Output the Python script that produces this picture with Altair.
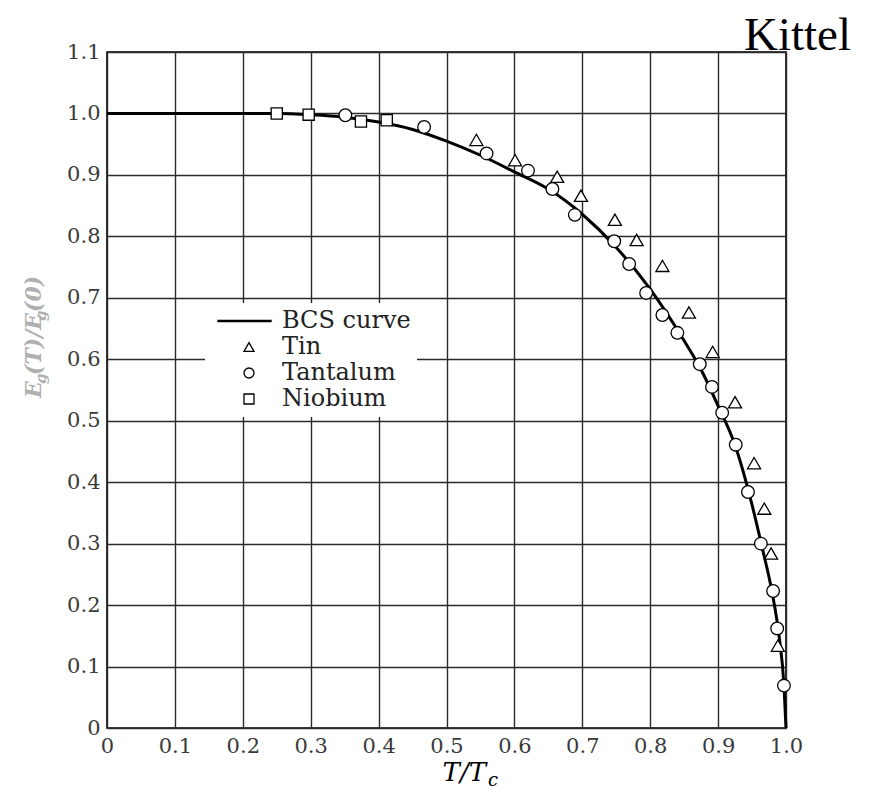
import altair as alt
import pandas as pd

# ---------------- data ----------------
x_ticks = [0, 0.1, 0.2, 0.3, 0.4, 0.5, 0.6, 0.7, 0.8, 0.9, 1.0]
y_ticks = [0, 0.1, 0.2, 0.3, 0.4, 0.5, 0.6, 0.7, 0.8, 0.9, 1.0, 1.1]

series_names = ["BCS curve", "Tin", "Tantalum", "Niobium"]

bcs_t = [0, 0.25, 0.3, 0.35, 0.4, 0.45, 0.5, 0.55, 0.6, 0.65, 0.7, 0.75,
         0.8, 0.85, 0.875, 0.9, 0.925, 0.95, 0.965, 0.98, 0.99, 0.997, 1.0]
bcs_e = [1.0, 1.0, 0.998, 0.994, 0.986, 0.974, 0.955, 0.932, 0.905, 0.877,
         0.836, 0.782, 0.714, 0.630, 0.583, 0.524, 0.460, 0.363, 0.293,
         0.218, 0.148, 0.069, 0.0]

tin_t = [0.544, 0.601, 0.663, 0.698, 0.748, 0.780, 0.818, 0.857, 0.892,
         0.925, 0.953, 0.968, 0.978, 0.988]
tin_e = [0.957, 0.924, 0.897, 0.866, 0.827, 0.794, 0.752, 0.676, 0.612,
         0.530, 0.431, 0.357, 0.284, 0.134]

tantalum_t = [0.351, 0.467, 0.559, 0.620, 0.656, 0.689, 0.747, 0.769, 0.794,
              0.818, 0.840, 0.873, 0.891, 0.906, 0.926, 0.944, 0.963, 0.981,
              0.987, 0.997]
tantalum_e = [0.997, 0.978, 0.935, 0.907, 0.877, 0.835, 0.792, 0.755, 0.708,
              0.672, 0.643, 0.592, 0.555, 0.513, 0.461, 0.384, 0.300, 0.223,
              0.162, 0.069]

niobium_t = [0.250, 0.297, 0.374, 0.412]
niobium_e = [1.0, 0.998, 0.987, 0.989]

# ---------------- tables ----------------
curve_df = pd.DataFrame({"t": bcs_t, "e": bcs_e})
tin_df = pd.DataFrame({"t": tin_t, "e": tin_e, "metal": "Tin"})
tantalum_df = pd.DataFrame({"t": tantalum_t, "e": tantalum_e, "metal": "Tantalum"})
niobium_df = pd.DataFrame({"t": niobium_t, "e": niobium_e, "metal": "Niobium"})

W, H = 679, 676
FONT = "DejaVu Serif"
LABEL_EXPR = "datum.value == 0 ? '0' : format(datum.value, '.1f')"

axis_common = dict(
    grid=True, gridColor="#2a2a2a", gridWidth=1.4, ticks=False, domain=False,
    labelFont=FONT, labelFontSize=21, labelColor="#3a3a3a",
    labelFlush=False, labelOverlap=False, labelExpr=LABEL_EXPR, title=None,
)

x_enc = alt.X("t:Q", scale=alt.Scale(domain=[0, 1], nice=False, zero=False),
              axis=alt.Axis(values=x_ticks, labelPadding=7, **axis_common))
y_enc = alt.Y("e:Q", scale=alt.Scale(domain=[0, 1.1], nice=False),
              axis=alt.Axis(values=y_ticks, labelPadding=7, **axis_common))

line = alt.Chart(curve_df).mark_line(
    color="black", strokeWidth=3, interpolate="monotone"
).encode(x=x_enc, y=y_enc)

LINE_PATH = "M-6.2,-0.14H4.4V0.14H-6.2Z"
legend = alt.Legend(
    title=None, orient="none", legendX=98, legendY=251,
    fillColor="white", padding=6, symbolSize=100,
    symbolStrokeColor="black", symbolStrokeWidth=1.3, symbolOpacity=1,
    symbolOffset=26, labelOffset=21, labelFont=FONT, labelFontSize=24,
    labelColor="#222222", rowPadding=2,
)

shape_scale = alt.Scale(domain=series_names,
                        range=[LINE_PATH, "triangle-up", "circle", "square"])
fill_scale = alt.Scale(domain=series_names,
                       range=["black", "white", "white", "white"])
stroke_scale = alt.Scale(domain=series_names,
                         range=["black", "black", "black", "black"])


def point_layer(df, size):
    return alt.Chart(df).mark_point(
        filled=True, strokeWidth=1.3, opacity=1, size=size
    ).encode(
        x=alt.X("t:Q"), y=alt.Y("e:Q"),
        shape=alt.Shape("metal:N", scale=shape_scale, legend=legend),
        fill=alt.Fill("metal:N", scale=fill_scale, legend=legend),
        stroke=alt.Stroke("metal:N", scale=stroke_scale, legend=legend),
    )


points = [point_layer(tin_df, 170), point_layer(tantalum_df, 160),
          point_layer(niobium_df, 125)]


def txt(text, x, y, size, style="normal", weight="normal", color="black",
        font=FONT, align="left", baseline="alphabetic", angle=0):
    return alt.Chart(pd.DataFrame({"s": [text]})).mark_text(
        align=align, baseline=baseline, font=font, fontSize=size,
        fontStyle=style, fontWeight=weight, color=color, angle=angle,
    ).encode(x=alt.value(x), y=alt.value(y), text="s:N")


GREY = "#b0b0b0"
texts = [
    txt("Kittel", 637, -2, 47, font="Liberation Serif"),
    # x-axis title T/T_c
    txt("T/T", 379, 729, 26, style="italic", align="right"),
    txt("c", 381, 734, 18, style="italic"),
    # y-axis title E_g(T)/E_g(0), rotated
    txt("E", -66, 346, 22, style="italic", weight="bold", color=GREY, angle=270),
    txt("g", -61, 332, 15, style="italic", weight="bold", color=GREY, angle=270),
    txt("(T)/E", -66, 323, 22, style="italic", weight="bold", color=GREY, angle=270),
    txt("g", -61, 269, 15, style="italic", weight="bold", color=GREY, angle=270),
    txt("(0)", -66, 260, 22, style="italic", weight="bold", color=GREY, angle=270),
]

chart = alt.layer(line, *points, *texts).properties(
    width=W, height=H,
    autosize=alt.AutoSizeParams(type="none"),
    padding={"left": 99, "top": 44, "right": 84, "bottom": 64},
).configure_view(stroke="black", strokeWidth=1.6)

chart.save("out.html", embed_options={"renderer": "svg", "actions": False})
